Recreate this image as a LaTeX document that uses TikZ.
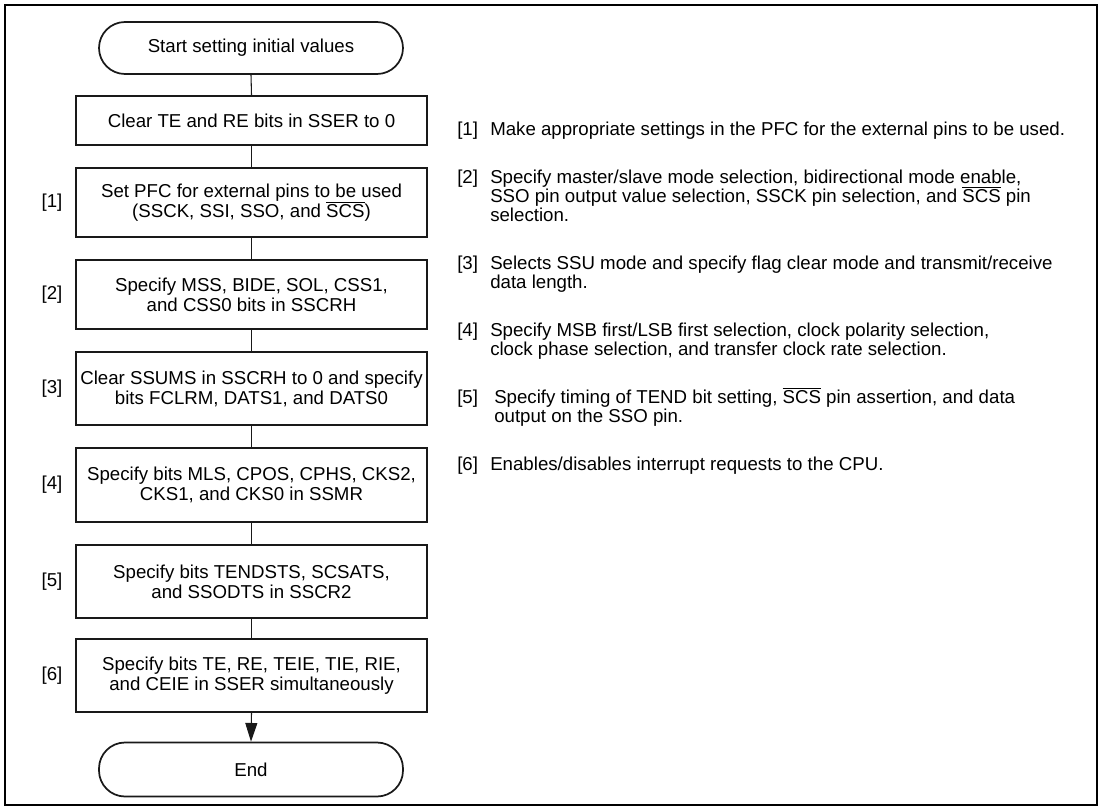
\documentclass[tikz,border=0pt]{standalone}
\usepackage{fontspec}
\setmainfont{Liberation Sans}
\usetikzlibrary{arrows.meta}
\newcommand{\ovl}[1]{$\overline{\hbox{#1}}$}
\begin{document}
\begin{tikzpicture}[x=0.75pt,y=-0.75pt,
  every node/.style={font=\fontsize{14}{15}\selectfont, text=black},
  procbox/.style={draw=black!90, line width=1.7pt, minimum width=263.25pt, align=center, inner sep=0pt},
  termbox/.style={draw=black!90, line width=1.3pt, minimum width=228pt, minimum height=39pt, rounded corners=19.5pt, inner sep=0pt},
  steplabel/.style={inner sep=0pt},
  rline/.style={anchor=base west, inner sep=0pt},
  conn/.style={draw=black!90, line width=0.8pt},
  frame/.style={draw=black, line width=1.6pt}
]
\useasboundingbox (0,0) rectangle (1100,810);
\draw[frame] (5,5) rectangle (1097,805);

\node[termbox] (start) at (251,48) {Start setting initial values};
\node[procbox, minimum height=36.75pt] (b0) at (251.5,120.5) {Clear TE and RE bits in SSER to 0};
\node[procbox, minimum height=51.75pt] (b1) at (251.5,202.5) {Set PFC for external pins to be used\\(SSCK, SSI, SSO, and \ovl{SCS})};
\node[procbox, minimum height=51.75pt] (b2) at (251.5,294.5) {Specify MSS, BIDE, SOL, CSS1,\\and CSS0 bits in SSCRH};
\node[procbox, minimum height=54.75pt] (b3) at (251.5,388.5) {Clear SSUMS in SSCRH to 0 and specify\\bits FCLRM, DATS1, and DATS0};
\node[procbox, minimum height=55.5pt] (b4) at (251.5,485) {Specify bits MLS, CPOS, CPHS, CKS2,\\CKS1, and CKS0 in SSMR};
\node[procbox, minimum height=54.75pt] (b5) at (251.5,581.5) {Specify bits TENDSTS, SCSATS,\\and SSODTS in SSCR2};
\node[procbox, minimum height=54.75pt] (b6) at (251.5,675.5) {Specify bits TE, RE, TEIE, TIE, RIE,\\and CEIE in SSER simultaneously};
\node[termbox, minimum height=40.5pt] (end) at (251,769.5) {End};

\node[steplabel] (l1) at (52,202.5) {[1]};
\node[steplabel] (l2) at (52,294.5) {[2]};
\node[steplabel] (l3) at (52,388.5) {[3]};
\node[steplabel] (l4) at (52,485) {[4]};
\node[steplabel] (l5) at (52,581.5) {[5]};
\node[steplabel] (l6) at (52,675.5) {[6]};

\draw[conn] (start.south) -- (b0.north);
\draw[conn] (b0.south) -- (b1.north);
\draw[conn] (b1.south) -- (b2.north);
\draw[conn] (b2.south) -- (b3.north);
\draw[conn] (b3.south) -- (b4.north);
\draw[conn] (b4.south) -- (b5.north);
\draw[conn] (b5.south) -- (b6.north);
\draw[conn, -{Triangle[length=14pt,width=9pt]}] (b6.south) -- (end.north);

\node[rline] (r1n) at (457,135) {[1]};
\node[rline] (r1a) at (490,135) {Make appropriate settings in the PFC for the external pins to be used.};
\node[rline] (r2n) at (457,183) {[2]};
\node[rline] (r2a) at (490,183) {Specify master/slave mode selection, bidirectional mode enable,};
\node[rline] (r2b) at (490,202) {SSO pin output value selection, SSCK pin selection, and \ovl{SCS} pin};
\node[rline] (r2c) at (490,221) {selection.};
\node[rline] (r3n) at (457,269) {[3]};
\node[rline] (r3a) at (490,269) {Selects SSU mode and specify flag clear mode and transmit/receive};
\node[rline] (r3b) at (490,288) {data length.};
\node[rline] (r4n) at (457,336) {[4]};
\node[rline] (r4a) at (490,336) {Specify MSB first/LSB first selection, clock polarity selection,};
\node[rline] (r4b) at (490,355) {clock phase selection, and transfer clock rate selection.};
\node[rline] (r5n) at (457,403) {[5]};
\node[rline] (r5a) at (494,403) {Specify timing of TEND bit setting, \ovl{SCS} pin assertion, and data};
\node[rline] (r5b) at (494,422) {output on the SSO pin.};
\node[rline] (r6n) at (457,470) {[6]};
\node[rline] (r6a) at (490,470) {Enables/disables interrupt requests to the CPU.};
\end{tikzpicture}
\end{document}
